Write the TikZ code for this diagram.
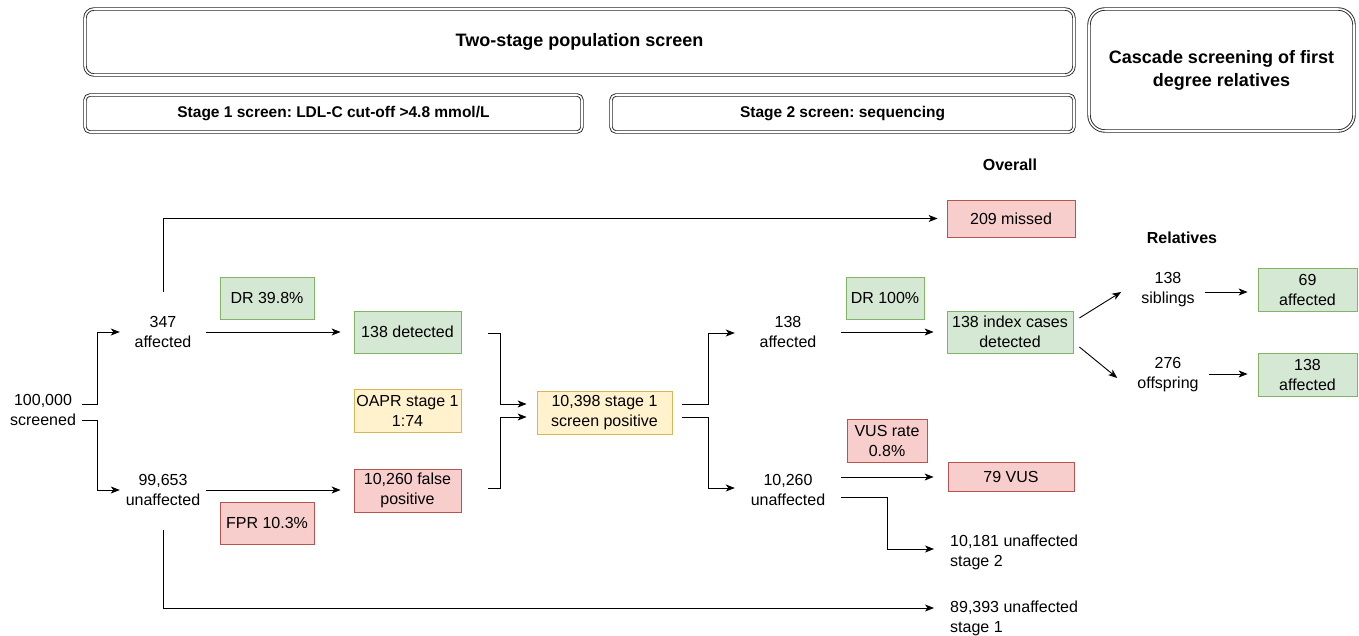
\documentclass[tikz,border=0pt]{standalone}
\usepackage{fontspec}
\setmainfont{Liberation Sans}
\usetikzlibrary{arrows.meta}
\definecolor{gfill}{HTML}{D5E8D4}\definecolor{gline}{HTML}{82B366}
\definecolor{rfill}{HTML}{F8CECC}\definecolor{rline}{HTML}{B85450}
\definecolor{yfill}{HTML}{FFF2CC}\definecolor{yline}{HTML}{D6B656}
\frenchspacing
\begin{document}
\begin{tikzpicture}[x=1pt,y=-1pt,
  every node/.style={font=\fontsize{16}{20}\selectfont, align=center, inner sep=0pt},
  txt/.style={},
  box/.style={draw, line width=0.8pt},
  gbox/.style={box, fill=gfill, draw=gline},
  rbox/.style={box, fill=rfill, draw=rline},
  ybox/.style={box, fill=yfill, draw=yline},
  hdr/.style={draw=black!85, line width=0.9pt, double=white, double distance=1.6pt, rounded corners=9pt},
  arr/.style={-{Stealth[length=9pt,width=7pt,inset=2.5pt]}, line width=0.9pt},
  ln/.style={line width=0.9pt}]
\useasboundingbox (0,0) rectangle (1359,636);
% headers
\node[hdr, minimum width=989pt, minimum height=66pt, font=\fontsize{18}{22}\selectfont\bfseries] (top) at (579.5,42) {Two-stage population screen};
\node[hdr, minimum width=497pt, minimum height=37pt, rounded corners=5pt, font=\fontsize{15.5}{20}\selectfont\bfseries] (st1) at (333.5,113.5) {Stage 1 screen: LDL-C cut-off >4.8 mmol/L};
\node[hdr, minimum width=463pt, minimum height=37pt, rounded corners=5pt, font=\fontsize{15.5}{20}\selectfont\bfseries] (st2) at (842.5,113.5) {Stage 2 screen: sequencing};
\node[hdr, minimum width=265pt, minimum height=122pt, rounded corners=16pt, font=\fontsize{18}{23}\selectfont\bfseries] (casc) at (1221.5,70) {Cascade screening of first\\degree relatives};
\node[font=\fontsize{16}{20}\selectfont\bfseries] (overall) at (1010,165) {Overall};
\node[font=\fontsize{16}{20}\selectfont\bfseries] (relatives) at (1182,238) {Relatives};
% text nodes
\node[txt, minimum width=78pt] (screened) at (43,410) {100,000\\screened};
\node[txt, minimum width=86pt] (aff1) at (163,332) {347\\affected};
\node[txt, minimum width=86pt] (unaff1) at (163,490) {99,653\\unaffected};
\node[txt, minimum width=106pt] (aff2) at (788,332) {138\\affected};
\node[txt, minimum width=106pt] (unaff2) at (788,490) {10,260\\unaffected};
\node[txt] (sib) at (1168,290) {138\\siblings};
\node[txt] (off) at (1168,375) {276\\offspring};
\node[txt, anchor=west, align=left] (unst2) at (950,552) {10,181 unaffected\\stage 2};
\node[txt, anchor=west, align=left] (unst1) at (950,618) {89,393 unaffected\\stage 1};
% boxes
\node[gbox, minimum width=94pt, minimum height=42pt] (dr1) at (267,298) {DR 39.8\%};
\node[gbox, minimum width=107pt, minimum height=42pt] (det1) at (407.5,332) {138 detected};
\node[ybox, minimum width=107pt, minimum height=43pt] (oapr) at (407.5,410.5) {OAPR stage 1\\1:74};
\node[rbox, minimum width=107pt, minimum height=43pt] (fp) at (407.5,490.5) {10,260 false\\positive};
\node[rbox, minimum width=94pt, minimum height=42pt] (fpr) at (267,523) {FPR 10.3\%};
\node[ybox, minimum width=135pt, minimum height=43pt] (pos) at (604.5,412.5) {10,398 stage 1\\screen positive};
\node[gbox, minimum width=78pt, minimum height=42pt] (dr2) at (885,298) {DR 100\%};
\node[gbox, minimum width=126pt, minimum height=42pt] (idx) at (1010,332) {138 index cases\\detected};
\node[rbox, minimum width=128pt, minimum height=37pt] (missed) at (1011,218.5) {209 missed};
\node[rbox, minimum width=80pt, minimum height=43pt] (vusr) at (887,440.5) {VUS rate\\0.8\%};
\node[rbox, minimum width=126pt, minimum height=29pt] (vus) at (1011,477) {79 VUS};
\node[gbox, minimum width=99pt, minimum height=43pt] (a69) at (1307.5,289.5) {69\\affected};
\node[gbox, minimum width=99pt, minimum height=43pt] (a138) at (1307.5,374.5) {138\\affected};
% connectors
\draw[arr] ([yshift=6pt]screened.east) -- ++(15,0) |- (aff1.west);
\draw[arr] ([yshift=-10pt]screened.east) -- ++(15,0) |- (unaff1.west);
\draw[arr] ([yshift=24pt]aff1.north) |- ([xshift=-9pt]missed.west);
\draw[arr] ([yshift=-24pt]unaff1.south) |- ([xshift=-16pt,yshift=10pt]unst1.west);
\draw[arr] (aff1.east) -- ([xshift=-13pt]det1.west);
\draw[arr] (unaff1.east) -- ([xshift=-13pt,yshift=0.5pt]fp.west);
\draw[arr] ([xshift=27pt,yshift=-1pt]det1.east) -- ++(12,0) |- ([xshift=-10pt,yshift=8.5pt]pos.west);
\draw[arr] ([xshift=27pt,yshift=2.5pt]fp.east) -- ++(12,0) |- ([xshift=-10pt,yshift=-4.5pt]pos.west);
\draw[arr] ([xshift=10pt,yshift=8.5pt]pos.east) -- ++(26,0) |- ([yshift=-1pt]aff2.west);
\draw[arr] ([xshift=10pt,yshift=-4.5pt]pos.east) -- ++(26,0) |- ([yshift=2pt]unaff2.west);
\draw[arr] (aff2.east) -- ([xshift=-13pt]idx.west);
\draw[arr] ([yshift=13pt]unaff2.east) -- ([xshift=-14pt]vus.west);
\draw[arr] ([yshift=-7pt]unaff2.east) -- ++(46,0) |- ([xshift=-16pt,yshift=3pt]unst2.west);
\draw[arr] ([xshift=6pt,yshift=14pt]idx.east) -- ([xshift=-20pt,yshift=-2pt]sib.west);
\draw[arr] ([xshift=6pt,yshift=-15pt]idx.east) -- ([xshift=-20pt,yshift=-3pt]off.west);
\draw[arr] ([xshift=10pt,yshift=-2pt]sib.east) -- ([xshift=-10pt,yshift=-2pt]sib.east -| a69.west);
\draw[arr] ([xshift=10pt,yshift=1pt]off.east) -- ([xshift=-10pt,yshift=1pt]off.east -| a138.west);
\end{tikzpicture}
\end{document}
